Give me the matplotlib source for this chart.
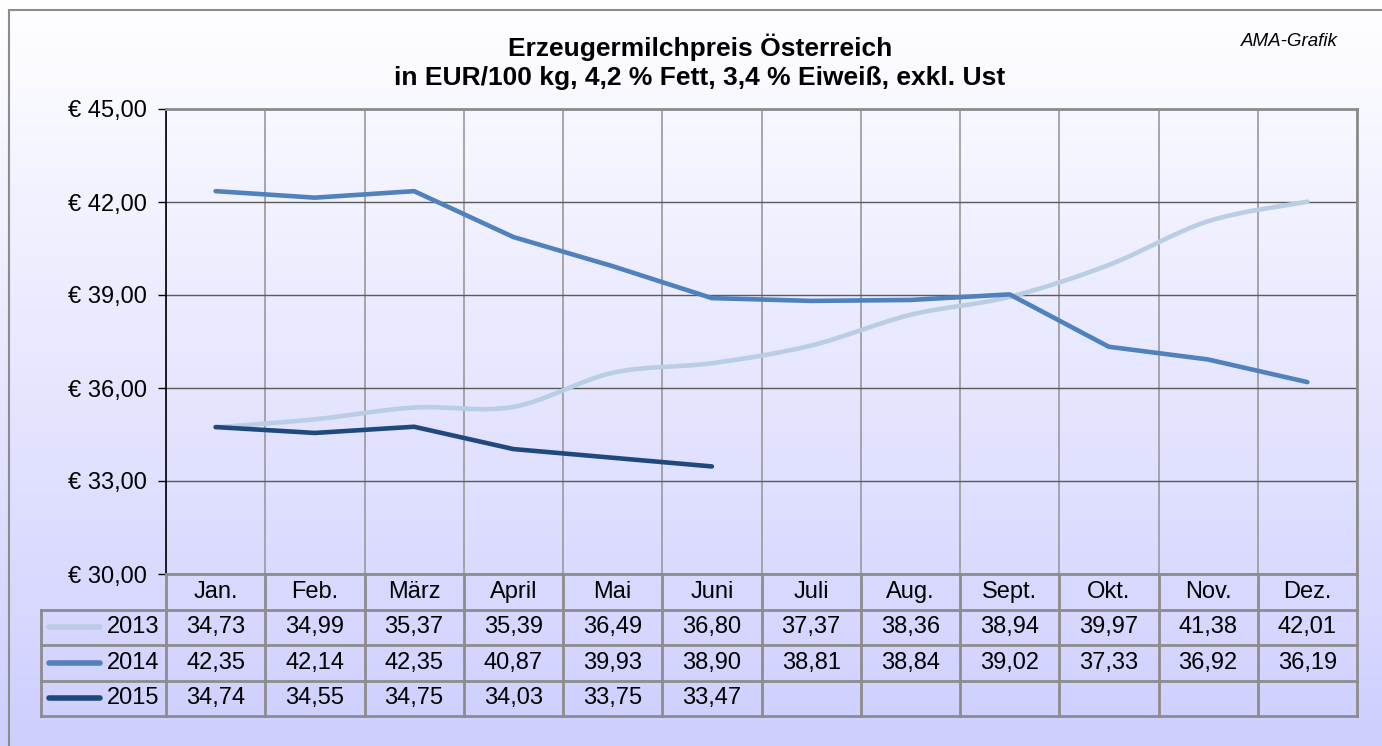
import numpy as np
import matplotlib.pyplot as plt
from matplotlib.path import Path
from matplotlib.patches import PathPatch, Rectangle

months = ['Jan.', 'Feb.', 'März', 'April', 'Mai', 'Juni', 'Juli', 'Aug.', 'Sept.', 'Okt.', 'Nov.', 'Dez.']
years = ['2013', '2014', '2015']
p2013 = [34.73, 34.99, 35.37, 35.39, 36.49, 36.80, 37.37, 38.36, 38.94, 39.97, 41.38, 42.01]
p2014 = [42.35, 42.14, 42.35, 40.87, 39.93, 38.90, 38.81, 38.84, 39.02, 37.33, 36.92, 36.19]
p2015 = [34.74, 34.55, 34.75, 34.03, 33.75, 33.47]
series = [p2013, p2014, p2015]
colors = ['#B9CDE5', '#4F81BD', '#1F497D']
yticks = [30, 33, 36, 39, 42, 45]

plt.rcParams['font.family'] = ['Liberation Sans', 'DejaVu Sans']

W, H = 1382, 746
fig = plt.figure(figsize=(W / 100, H / 100), dpi=100)


def fx(px):
    return px / W


def fy(py):
    return 1 - py / H


def de(v):
    return ('%.2f' % v).replace('.', ',')


# background gradient
bg = fig.add_axes([0, 0, 1, 1], zorder=-10)
t = np.linspace(0, 1, 256)[:, None, None]
top = np.array([1.0, 1.0, 1.0])
bot = np.array([0.81, 0.81, 1.0])
bg.imshow(top + (bot - top) * t, aspect='auto', extent=[0, 1, 0, 1], origin='upper')
bg.set_xlim(0, 1)
bg.set_ylim(0, 1)
bg.axis('off')
bg.add_patch(Rectangle((fx(9), fy(800)), fx(1450) - fx(9), fy(10) - fy(800),
                       fill=False, edgecolor='#8c8c8c', lw=1.5, clip_on=False))

# main plot
x0, x1, y0, y1 = 166, 1357, 109, 574
ax = fig.add_axes([fx(x0), fy(y1), fx(x1) - fx(x0), fy(y0) - fy(y1)])
ax.set_facecolor('none')
ax.set_xlim(-0.5, 11.5)
ax.set_ylim(30, 45)
ax.set_yticks(yticks)
ax.set_yticklabels(['€ ' + de(v) for v in yticks], fontsize=17)
ax.set_xticks(np.arange(-0.5, 12, 1))
ax.set_xticklabels([])
ax.tick_params(axis='x', length=0)
ax.tick_params(axis='y', length=6, width=1, color='black', pad=7.5)
ax.grid(True, axis='y', color='#5a5a5a', lw=1)
ax.grid(True, axis='x', color='#999999', lw=1.2)
ax.set_axisbelow(True)
for s in ['top', 'right', 'bottom']:
    ax.spines[s].set_color('#8c8c8c')
    ax.spines[s].set_linewidth(2)
ax.spines['left'].set_color('black')
ax.spines['left'].set_linewidth(1.2)

# 2013 smoothed line (Bezier through the data points)
xs = np.arange(len(p2013), dtype=float)
ys = np.array(p2013)
verts = [(xs[0], ys[0])]
codes = [Path.MOVETO]
n = len(xs)
for i in range(n - 1):
    pm = (xs[max(i - 1, 0)], ys[max(i - 1, 0)])
    p0 = (xs[i], ys[i])
    p1 = (xs[i + 1], ys[i + 1])
    p2 = (xs[min(i + 2, n - 1)], ys[min(i + 2, n - 1)])
    c1 = (p0[0] + (p1[0] - pm[0]) / 6, p0[1] + (p1[1] - pm[1]) / 6)
    c2 = (p1[0] - (p2[0] - p0[0]) / 6, p1[1] - (p2[1] - p0[1]) / 6)
    verts += [c1, c2, p1]
    codes += [Path.CURVE4] * 3
ax.add_patch(PathPatch(Path(verts, codes), fill=False, edgecolor=colors[0], lw=3.3,
                       capstyle='round', joinstyle='round'))
ax.plot(range(len(p2014)), p2014, color=colors[1], lw=3.3, solid_capstyle='round')
ax.plot(range(len(p2015)), p2015, color=colors[2], lw=3.3, solid_capstyle='round')

# data table
tb = fig.add_axes([fx(x0), fy(716), fx(x1) - fx(x0), fy(574) - fy(716)])
tb.set_xlim(-0.5, 11.5)
tb.set_ylim(4, 0)
tb.axis('off')
colw = (x1 - x0) / 12
xl = -0.5 - (x0 - 41) / colw
gc = '#8c8c8c'
for r in range(1, 5):
    tb.plot([xl, 11.5], [r, r], color=gc, lw=2, clip_on=False)
for k in range(13):
    tb.plot([k - 0.5, k - 0.5], [0, 4], color=gc, lw=2, clip_on=False)
tb.plot([xl, xl], [1, 4], color=gc, lw=2, clip_on=False)

for i, m in enumerate(months):
    tb.text(i, 0.5, m, ha='center', va='center', fontsize=17)
for r, (yr, vals, c) in enumerate(zip(years, series, colors)):
    yy = r + 1.5
    for i, v in enumerate(vals):
        tb.text(i, yy, de(v), ha='center', va='center', fontsize=17)
    tb.plot([-0.5 - (x0 - 49) / colw, -0.5 - (x0 - 100) / colw], [yy, yy], color=c, lw=4,
            solid_capstyle='round', clip_on=False)
    tb.text(-0.5 - (x0 - 159) / colw, yy, yr, ha='right', va='center', fontsize=17)

# titles
fig.text(fx(700), fy(47), 'Erzeugermilchpreis Österreich', ha='center', va='center',
         fontsize=19, fontweight='bold')
fig.text(fx(700), fy(78), 'in EUR/100 kg, 4,2 % Fett, 3,4 % Eiweiß, exkl. Ust', ha='center',
         va='center', fontsize=19, fontweight='bold')
fig.text(fx(1338), fy(42), 'AMA-Grafik', ha='right', va='center', fontsize=13.5, style='italic')

fig.savefig('out.png', dpi=100)
